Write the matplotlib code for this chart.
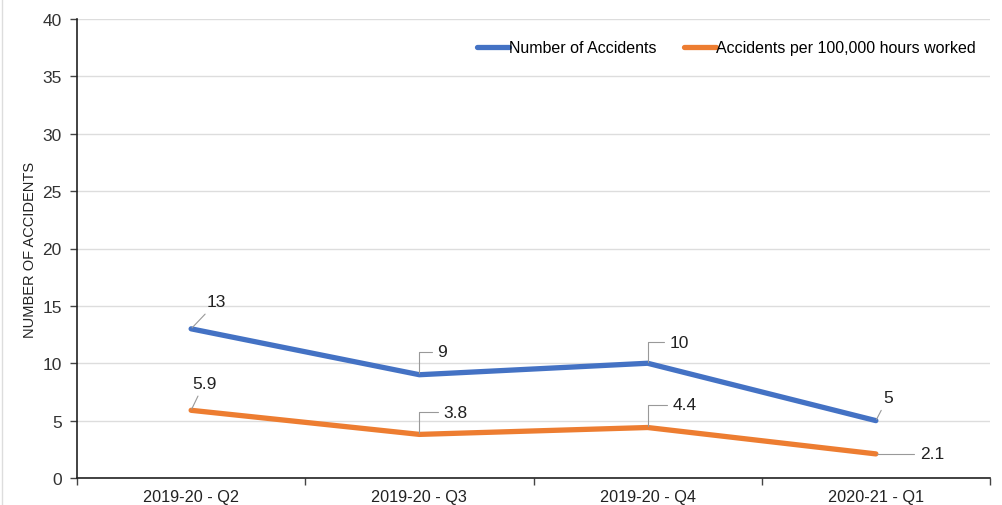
import matplotlib.pyplot as plt
from matplotlib.lines import Line2D

plt.rcParams['font.family'] = ['Liberation Sans', 'DejaVu Sans']

quarters = ['2019-20 - Q2', '2019-20 - Q3', '2019-20 - Q4', '2020-21 - Q1']
accidents = [13, 9, 10, 5]
per_100k = [5.9, 3.8, 4.4, 2.1]
acc_labels = ['13', '9', '10', '5']
rate_labels = ['5.9', '3.8', '4.4', '2.1']

# label offsets in pixels (dx, dy) from the point
acc_off = [(16, 27), (18, 23), (22, 21), (12, 23)]
rate_off = [(13, 27), (24, 22), (25, 23), (44, 0)]

blue = '#4472C4'
orange = '#ED7D31'

fig = plt.figure(figsize=(10.02, 5.06), dpi=100)
ax = fig.add_axes([77/1002, 1 - 479/506, (990-77)/1002, (479-20)/506])

x = list(range(len(quarters)))
ax.plot(x, accidents, color=blue, lw=3.8, solid_capstyle='round', solid_joinstyle='round', label='Number of Accidents')
ax.plot(x, per_100k, color=orange, lw=3.8, solid_capstyle='round', solid_joinstyle='round', label='Accidents per 100,000 hours worked')

ax.set_xlim(-0.5, len(quarters) - 0.5)
ax.set_ylim(0, 40)
ax.set_yticks(range(0, 41, 5))
ax.set_xticks(x)
ax.set_xticklabels(quarters)
ax.set_xticks([i - 0.5 for i in range(len(quarters) + 1)], minor=True)
ax.tick_params(axis='x', which='major', length=0, pad=8, labelsize=11.7, colors='#222222')
ax.tick_params(axis='x', which='minor', length=5, width=1, color='#444444')
ax.tick_params(axis='y', length=5, width=1, color='#444444', labelsize=12.5, labelcolor='#333333', pad=6)

ax.grid(axis='y', color='#dddddd', lw=1)
ax.set_axisbelow(True)
for s in ['top', 'right']:
    ax.spines[s].set_visible(False)
for s in ['left', 'bottom']:
    ax.spines[s].set_color('#222222')
    ax.spines[s].set_linewidth(1.2)

ax.set_ylabel('NUMBER OF ACCIDENTS', fontsize=10.5, color='#222222', labelpad=4)

def label(vals, texts, offs):
    for xi, v, t, (dx, dy) in zip(x, vals, texts, offs):
        if dy > 0 and dx < 17:
            cs = 'arc3'
        elif dy == 0:
            cs = 'angle,angleA=0,angleB=30,rad=0'
        else:
            cs = 'angle,angleA=0,angleB=90,rad=0'
        ax.annotate(t, (xi, v), xytext=(dx, dy), textcoords='offset pixels',
                    fontsize=12.5, color='#222222', ha='left' if dx > 15 else 'center', va='center',
                    arrowprops=dict(arrowstyle='-', color='#999999', lw=0.8,
                                    connectionstyle=cs, shrinkA=2, shrinkB=1))

label(accidents, acc_labels, acc_off)
label(per_100k, rate_labels, rate_off)

ax.legend(loc='upper right', bbox_to_anchor=(1.0, 0.985), ncol=2, frameon=False, fontsize=11.5,
          handlelength=2.0, handletextpad=0.0, columnspacing=1.7)

fig.add_artist(Line2D([2/1002, 2/1002], [0, 1], color='#dddddd', lw=1))

fig.savefig('out.png', dpi=100)
